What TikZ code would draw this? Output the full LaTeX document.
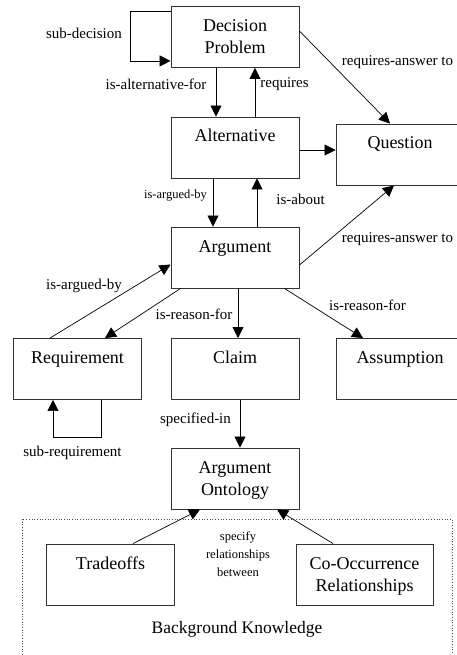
\documentclass[tikz,border=0pt]{standalone}
\usepackage{fontspec}
\setmainfont{Liberation Serif}
\usetikzlibrary{arrows.meta,positioning,calc}
\tikzset{
  box/.style={draw=black!80, line width=0.9pt, minimum width=#1, minimum height=61pt,
              text width=#1-8pt, align=center, inner xsep=4pt, inner ysep=0pt,
              text height=25pt, text depth=36pt, font=\fontsize{18}{22}\selectfont},
  box/.default=128pt,
  lbl/.style={inner sep=0pt, font=\fontsize{15}{18}\selectfont},
  slbl/.style={inner sep=0pt, align=center, font=\fontsize{12.5}{18}\selectfont},
  conn/.style={line width=0.7pt, -{Triangle[length=11pt,width=11pt]}},
}
\begin{document}
\begin{tikzpicture}[x=1pt, y=-1pt]
  \useasboundingbox (0,0) rectangle (457,655);
  % boxes
  \node[box] (dec) at (235,37) {Decision\\Problem};
  \node[box] (alt) at (235,147.5) {Alternative};
  \node[box] (que) at (400,154.5) {Question};
  \node[box] (arg) at (235,257.5) {Argument};
  \node[box] (req) at (77.5,369) {Requirement};
  \node[box] (clm) at (235,369) {Claim};
  \node[box] (ass) at (400,369) {Assumption};
  \node[box] (ont) at (235,478.5) {Argument\\Ontology};
  \node[box] (trd) at (110.5,574.5) {Tradeoffs};
  \node[box=137pt] (coo) at (364.5,574.5) {Co-Occurrence\\Relationships};
  % background knowledge
  \draw[dotted, line width=0.7pt, black!70] (22,519) rectangle (452,680);
  \node[font=\fontsize{17.5}{21}\selectfont, inner sep=0pt] (bgk) at (237,629) {Background Knowledge};
  % decision level
  \draw[conn] ([yshift=-5.5pt]dec.north west) -- ++(-40,0) |- ([yshift=7pt]dec.south west);
  \draw[conn] ([xshift=-19pt]dec.south) -- ([xshift=-19pt]alt.north);
  \draw[conn] ([xshift=20pt]alt.north) -- ([xshift=20pt]dec.south);
  \draw[conn] ([yshift=6pt]dec.east) -- ([xshift=-10pt]que.north);
  \draw[conn] ([yshift=-2.5pt]alt.east) -- ([yshift=-2.5pt]alt.east -| que.west);
  \node[lbl] (lsubdec) at (84,33) {sub-decision};
  \node[lbl] (laltfor) at (156,84) {is-alternative-for};
  \node[lbl] (lreq) at (284.5,84) {requires};
  \node[lbl] (lans1) at (397.5,62) {requires-answer to};
  % argument level
  \draw[conn] ([xshift=-22pt]alt.south) -- ([xshift=-22pt]arg.north);
  \draw[conn] ([xshift=22pt]arg.north) -- ([xshift=22pt]alt.south);
  \draw[conn] ([yshift=-7.5pt]arg.east) -- ([xshift=-6pt]que.south);
  \draw[conn] ([xshift=-27.5pt]req.north) -- ([yshift=-7pt]arg.west);
  \draw[conn] ([xshift=10pt]arg.south west) -- ([xshift=27.5pt]req.north);
  \draw[conn] ([xshift=3pt]arg.south) -- ([xshift=3pt]clm.north);
  \draw[conn] ([xshift=-15pt]arg.south east) -- ([xshift=-37pt]ass.north);
  \node[slbl] (largby1) at (175.5,196) {is-argued-by};
  \node[lbl] (labout) at (300.5,199) {is-about};
  \node[lbl] (lans2) at (397.5,239) {requires-answer to};
  \node[lbl] (largby2) at (84,286) {is-argued-by};
  \node[lbl] (lrsn1) at (194,314) {is-reason-for};
  \node[lbl] (lrsn2) at (367.5,305) {is-reason-for};
  % requirement and claim
  \draw[conn] ([xshift=23.5pt]req.south) -- ++(0,37) -| ([xshift=-24.5pt]req.south);
  \draw[conn] ([xshift=5pt]clm.south) -- ([xshift=5pt]ont.north);
  \node[lbl] (lsubreq) at (72.5,453) {sub-requirement};
  \node[lbl] (lspec) at (195.5,420) {specified-in};
  % ontology
  \draw[conn] ([xshift=22.5pt]trd.north) -- ([xshift=-35pt]ont.south);
  \draw[conn] ([xshift=-31.5pt]coo.north) -- ([xshift=42pt]ont.south);
  \node[slbl] (lrel) at (238,554) {specify\\relationships\\between};
\end{tikzpicture}
\end{document}
